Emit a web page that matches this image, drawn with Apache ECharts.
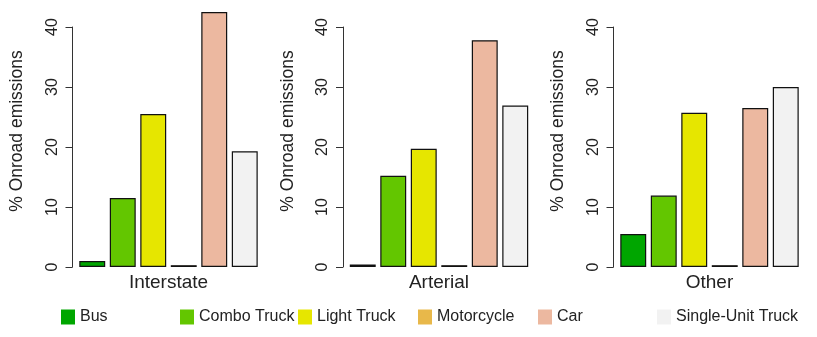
<!DOCTYPE html>
<html>
<head>
<meta charset="utf-8">
<script src="https://cdn.jsdelivr.net/npm/echarts@6/dist/echarts.min.js"></script>
<style>
  html, body { margin: 0; padding: 0; background: #fff; }
  #chart { width: 817px; height: 337px; }
</style>
</head>
<body>
<div id="chart"></div>
<script>
// vehicle types (one bar each per panel)
var categories = ["Bus", "Combo Truck", "Light Truck", "Motorcycle", "Car", "Single-Unit Truck"];
var panels = ["Interstate", "Arterial", "Other"];
// % onroad emissions
var interstate = [1.0, 11.5, 25.5, 0.3, 42.5, 19.3];
var arterial = [0.4, 15.2, 19.7, 0.3, 37.8, 26.9];
var other = [5.5, 11.9, 25.7, 0.3, 26.5, 30.0];
var yTicks = [0, 10, 20, 30, 40];

var colors = ["#00A600", "#63C600", "#E6E600", "#E8B84A", "#ECB8A0", "#F2F2F2"];
var font = "Liberation Sans, Arial, sans-serif";

var chart = echarts.init(document.getElementById("chart"));
var values = [interstate, arterial, other];

var grids = [], xAxes = [], yAxes = [], series = [], legends = [];

panels.forEach(function (p, i) {
  grids.push({ left: 77 + 270.5 * i, width: 183, top: 27, bottom: 70 });
  xAxes.push({
    type: "category",
    gridIndex: i,
    data: categories,
    axisLine: { show: false },
    axisTick: { show: false },
    axisLabel: { show: false },
    name: p,
    nameLocation: "middle",
    nameGap: 6,
    nameTextStyle: { fontSize: 19, color: "#222", fontFamily: font }
  });
  yAxes.push({
    type: "value",
    gridIndex: i,
    min: yTicks[0],
    max: yTicks[yTicks.length - 1],
    interval: 10,
    offset: 4.5,
    splitLine: { show: false },
    axisLine: { show: true, lineStyle: { color: "#333", width: 1 } },
    axisTick: { show: true, length: 7, lineStyle: { color: "#333" } },
    axisLabel: { rotate: 90, margin: 12, fontSize: 16, color: "#222", fontFamily: font },
    name: "% Onroad emissions",
    nameLocation: "middle",
    nameGap: 46,
    nameTextStyle: { fontSize: 17.5, color: "#222", fontFamily: font, padding: [0, 0, 0, 32] }
  });
  categories.forEach(function (c, k) {
    series.push({
      type: "bar",
      name: c,
      xAxisIndex: i,
      yAxisIndex: i,
      clip: false,
      barGap: "-100%",
      barCategoryGap: "15%",
      itemStyle: { color: colors[k], borderColor: "#111", borderWidth: 1.2 },
      data: categories.map(function (_, j) { return j === k ? values[i][k] : "-"; })
    });
  });
});

// legend items sit at irregular spots, so one legend per item
var legendLeft = [61, 180, 298, 418, 538, 657];
categories.forEach(function (c, k) {
  legends.push({
    data: [c],
    left: legendLeft[k],
    top: 309,
    padding: 0,
    icon: "rect",
    itemWidth: 14,
    itemHeight: 15,
    itemStyle: { borderWidth: 0 },
    textStyle: { fontSize: 16, color: "#222", fontFamily: font }
  });
});

chart.setOption({
  animation: false,
  grid: grids,
  xAxis: xAxes,
  yAxis: yAxes,
  legend: legends,
  series: series
});
</script>
</body>
</html>
